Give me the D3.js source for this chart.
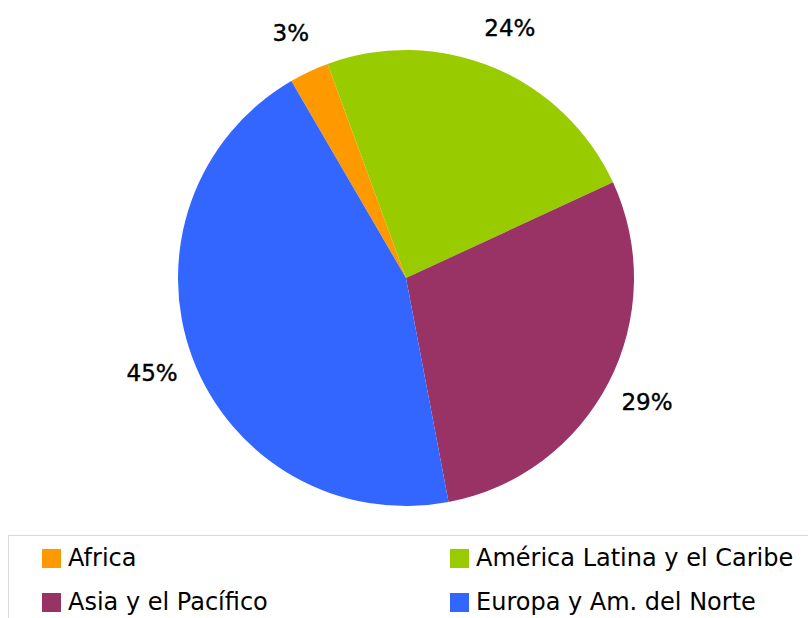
<!DOCTYPE html>
<html>
<head>
<meta charset="utf-8">
<script src="https://cdn.jsdelivr.net/npm/d3@7"></script>
<style>
  body { margin: 0; background: #fff; }
  svg { display: block; }
</style>
</head>
<body>
<script>
// datos
var regiones = ["Africa", "América Latina y el Caribe", "Asia y el Pacífico", "Europa y Am. del Norte"];
var valores = [2.8, 23.7, 28.9, 44.6];
var etiquetas = ["3%", "24%", "29%", "45%"];
var colores = ["#FF9900", "#99CC00", "#993366", "#3366FF"];

const w = 808;
const h = 618;
const cx = 406, cy = 278, radio = 228;

var svg = d3.select("body")
  .append("svg")
  .attr("width", w)
  .attr("height", h);

var color = d3.scaleOrdinal().domain(regiones).range(colores);

var inicio = -30.2 * Math.PI / 180;
var pie = d3.pie()
  .sort(null)
  .startAngle(inicio)
  .endAngle(inicio + 2 * Math.PI)
  .value((d, i) => valores[i]);

var arcos = pie(regiones);

var arc = d3.arc().innerRadius(0).outerRadius(radio);
var arcEtiqueta = d3.arc().innerRadius(271).outerRadius(271);

var g = svg.append("g")
  .attr("transform", "translate(" + cx + "," + cy + ")");

g.selectAll("path")
  .data(arcos)
  .enter()
  .append("path")
  .attr("d", arc)
  .attr("fill", (d) => color(d.data))
  .attr("stroke", "none");

g.selectAll("text")
  .data(arcos)
  .enter()
  .append("text")
  .attr("transform", (d) => "translate(" + arcEtiqueta.centroid(d) + ")")
  .attr("text-anchor", "middle")
  .attr("dy", "0.36em")
  .attr("font-family", "DejaVu Sans, sans-serif")
  .attr("font-size", 23)
  .attr("fill", "#000")
  .attr("stroke", "#000")
  .attr("stroke-width", 0.4)
  .text((d, i) => etiquetas[i]);

// leyenda
svg.append("rect")
  .attr("x", 8.5)
  .attr("y", 535.5)
  .attr("width", 820)
  .attr("height", 120)
  .attr("fill", "none")
  .attr("stroke", "#d9d9d9")
  .attr("stroke-width", 1);

var colX = [42, 450];
var filaY = [549, 593];

var leyenda = svg.selectAll(".leg")
  .data(regiones)
  .enter()
  .append("g")
  .attr("class", "leg")
  .attr("transform", (d, i) => "translate(" + colX[i % 2] + "," + filaY[Math.floor(i / 2)] + ")");

leyenda.append("rect")
  .attr("width", 19)
  .attr("height", 19)
  .attr("fill", (d) => color(d));

leyenda.append("text")
  .attr("x", 26)
  .attr("y", 17)
  .attr("font-family", "DejaVu Sans, sans-serif")
  .attr("font-size", 24)
  .attr("fill", "#000")
  .text((d) => d);
</script>
</body>
</html>
